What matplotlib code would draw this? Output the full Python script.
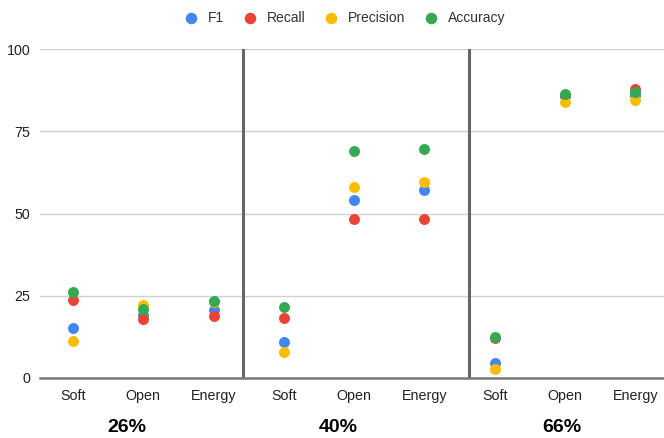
import numpy as np
import matplotlib.pyplot as plt
from matplotlib.lines import Line2D

plt.rcParams['font.family'] = ['Liberation Sans', 'DejaVu Sans']

# ---- data ----
methods = ["Soft", "Open", "Energy"] * 3
groups = ["26%", "40%", "66%"]

f1        = [15.3, 19.3, 20.8, 10.8, 54.1, 57.0,  4.5, 85.6, 86.1]
recall    = [23.8, 17.9, 18.8, 18.2, 48.2, 48.4, 12.3, 86.0, 87.9]
precision = [11.3, 22.2, 23.1,  7.8, 58.1, 59.6,  2.6, 83.8, 84.5]
accuracy  = [26.0, 21.1, 23.4, 21.6, 68.9, 69.6, 12.4, 86.4, 86.8]

series = [
    ("F1", f1, "#4285F4"),
    ("Recall", recall, "#EA4335"),
    ("Precision", precision, "#FBBC04"),
    ("Accuracy", accuracy, "#34A853"),
]

# ---- figure ----
fig = plt.figure(figsize=(6.64, 4.38), dpi=100)
ax = fig.add_axes([0.0602, 0.137, 0.9398, 0.751])

x = np.arange(len(methods))
for name, vals, col in series:
    ax.scatter(x, vals, s=62, color=col, label=name, zorder=3,
               linewidths=0, clip_on=False)

ax.set_xlim(-0.47, 8.41)
ax.set_ylim(0, 100)
ax.set_yticks([0, 25, 50, 75, 100])
ax.set_xticks(x)
ax.set_xticklabels(methods)
ax.tick_params(axis="both", length=0, labelsize=10.3, colors="#222222")
ax.tick_params(axis="x", pad=8)
ax.tick_params(axis="y", pad=7)

for s in ["top", "right", "left"]:
    ax.spines[s].set_visible(False)
ax.spines["bottom"].set_color("#777777")
ax.spines["bottom"].set_linewidth(1.8)
ax.spines["bottom"].set_zorder(2)

ax.grid(axis="y", color="#d0d0d0", linewidth=1.0)
ax.set_axisbelow(True)

# group separators
for sx in [2.42, 5.64]:
    ax.axvline(sx, color="#666666", linewidth=2.2, zorder=2)

# group labels under the method names
for gx, g in zip([0.77, 3.77, 6.96], groups):
    ax.text(gx, -0.15, g, transform=ax.get_xaxis_transform(),
            ha="center", va="center", fontsize=14, fontweight="bold",
            color="#000000")

# legend
handles = [Line2D([], [], marker="o", linestyle="", markersize=8.3,
                  markerfacecolor=c, markeredgewidth=0) for _, _, c in series]
fig.legend(handles, [n for n, _, _ in series], loc="center",
           bbox_to_anchor=(0.514, 0.958), ncol=4, frameon=False,
           fontsize=10, handletextpad=0.18, columnspacing=0.88,
           labelcolor="#333333")

fig.savefig("out.png", dpi=100)
